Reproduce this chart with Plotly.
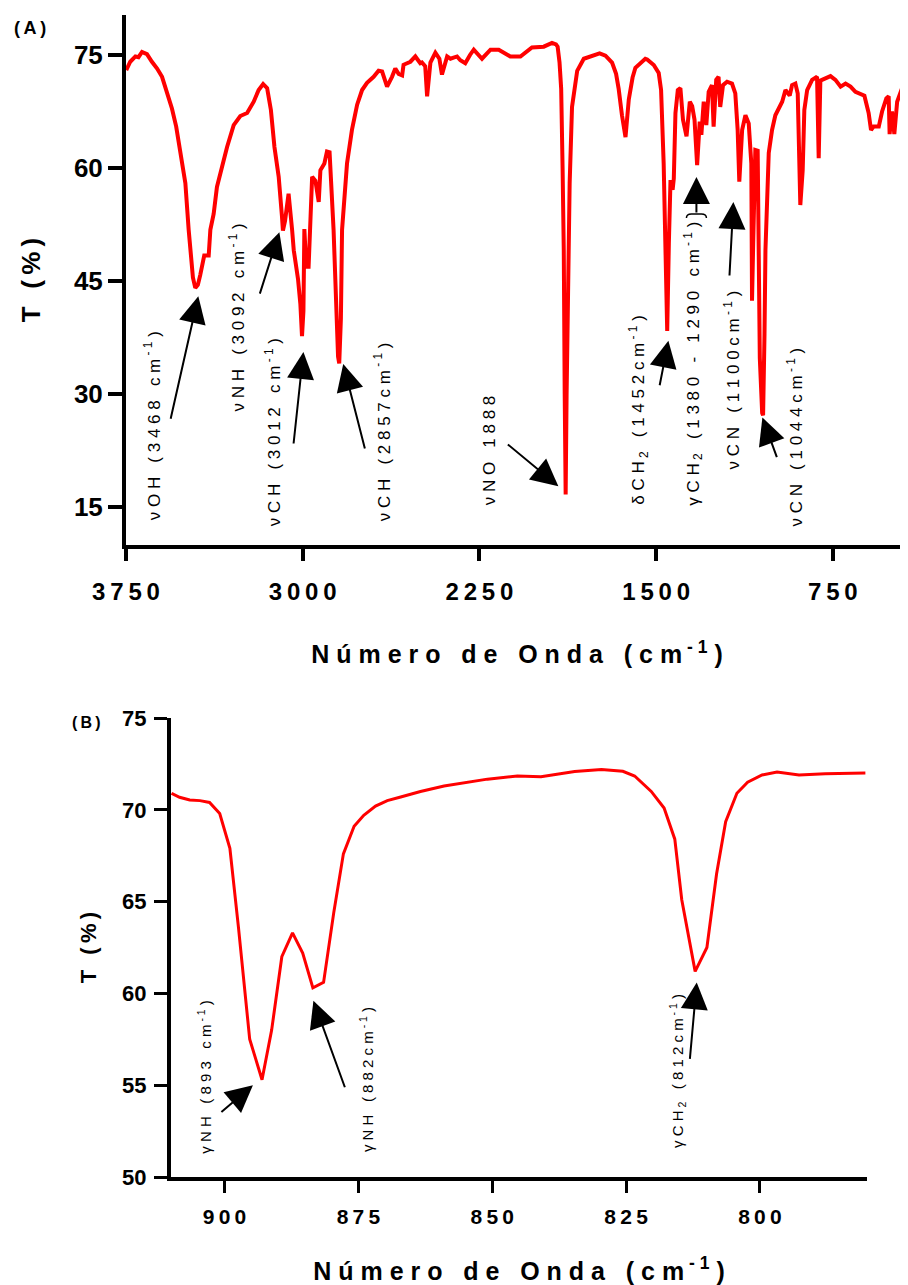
import re
import plotly.graph_objects as go

# ---------------- data ----------------
# Panel A: full FTIR spectrum
wn_a = [3749, 3732, 3710, 3697, 3682, 3661, 3640, 3618, 3597, 3576, 3555, 3537, 3517, 3498,
        3484, 3477, 3466, 3456, 3445, 3435, 3418, 3399, 3392, 3378, 3364, 3342, 3321, 3293,
        3265, 3236, 3208, 3187, 3168, 3151, 3135, 3120, 3102, 3088, 3084, 3075, 3060, 3045,
        3038, 3020, 3010, 3003, 2997, 2993, 2985, 2975, 2960, 2946, 2932, 2925, 2908, 2897,
        2886, 2869, 2858, 2850, 2845, 2838, 2833, 2812, 2791, 2769, 2748, 2727, 2699, 2678,
        2663, 2642, 2621, 2607, 2593, 2578, 2572, 2543, 2522, 2501, 2494, 2480, 2472, 2458,
        2437, 2420, 2409, 2387, 2373, 2345, 2331, 2310, 2290, 2274, 2239, 2203, 2168, 2140,
        2119, 2076, 2050, 2027, 1977, 1942, 1925, 1918, 1910, 1903, 1897, 1892, 1888, 1884,
        1880, 1875, 1867, 1857, 1835, 1807, 1765, 1740, 1715, 1687, 1670, 1659, 1645, 1630,
        1616, 1600, 1588, 1567, 1546, 1538, 1510, 1489, 1479, 1468, 1460, 1453, 1446, 1439,
        1430, 1425, 1418, 1408, 1397, 1386, 1371, 1357, 1347, 1337, 1326, 1315, 1308, 1298,
        1287, 1277, 1263, 1256, 1245, 1235, 1228, 1216, 1199, 1178, 1164, 1154, 1147, 1135,
        1121, 1107, 1096, 1093, 1088, 1079, 1069, 1060, 1050, 1046, 1040, 1036, 1022, 1008,
        994, 980, 965, 951, 933, 923, 909, 899, 893, 888, 878, 871, 859, 838, 817, 810, 803,
        781, 760, 739, 717, 696, 675, 654, 633, 616, 598, 588, 577, 555, 541, 523, 513, 509,
        499, 489, 477, 463, 449, 442, 431]
t_a = [73.0, 74.1, 74.8, 74.7, 75.4, 75.1, 74.1, 73.2, 72.1, 69.9, 67.9, 65.5, 62.0, 58.0,
       51.8, 49.1, 45.5, 44.1, 44.5, 45.8, 48.4, 48.4, 51.8, 53.9, 57.5, 60.2, 62.8, 65.7,
       66.9, 67.3, 68.8, 70.35, 71.15, 70.6, 67.7, 62.8, 58.85, 53.55, 51.7, 53.0, 56.6, 51.8,
       49.1, 45.3, 42.0, 37.7, 41.0, 51.9, 46.9, 46.9, 58.85, 58.3, 55.5, 59.7, 60.6, 62.2,
       62.1, 51.8, 40.0, 35.0, 34.1, 40.0, 51.8, 60.6, 65.05, 68.4, 70.35, 71.3, 72.1, 72.9,
       72.8, 70.8, 72.1, 73.2, 72.5, 72.3, 73.7, 74.1, 74.8, 73.9, 74.0, 73.5, 69.5, 74.0,
       75.3, 74.5, 72.4, 74.8, 74.5, 74.8, 74.3, 73.9, 75.0, 75.7, 74.5, 75.7, 75.7, 75.2,
       74.8, 74.8, 75.4, 76.0, 76.1, 76.6, 76.4, 76.1, 74.0, 70.5, 60.0, 49.1, 30.0, 16.7,
       30.0, 44.3, 58.0, 68.1, 72.9, 74.5, 74.9, 75.2, 74.9, 74.0, 72.5, 70.5, 67.0, 64.1,
       69.1, 72.0, 73.3, 73.9, 74.5, 74.4, 73.67, 72.6, 70.35, 60.6, 50.0, 38.4, 50.0, 58.4,
       57.1, 58.6, 67.3, 70.35, 70.6, 66.4, 64.2, 68.8, 68.2, 66.4, 60.4, 66.15, 64.4, 68.8,
       65.7, 70.1, 71.0, 65.5, 71.7, 72.1, 68.1, 71.0, 71.45, 71.2, 69.9, 65.05, 58.2, 65.05,
       67.0, 65.9, 60.6, 42.4, 50.0, 62.4, 62.3, 34.8, 27.5, 27.2, 38.0, 49.1, 62.0, 65.05,
       67.0, 67.9, 68.8, 70.35, 69.6, 71.0, 71.2, 69.9, 62.8, 55.1, 59.7, 67.7, 70.35, 71.7,
       72.1, 61.3, 71.6, 71.9, 72.2, 71.7, 70.8, 71.2, 70.8, 70.1, 69.9, 69.6, 67.3, 65.05,
       65.5, 65.5, 67.5, 69.25, 69.5, 64.5, 67.5, 64.5, 68.8, 70.1, 71.2, 73.4, 74.6]

# Panel B: 910-780 cm-1 detail
wn_b = [909.9, 908.4, 906.5, 904.6, 902.8, 900.9, 899.0, 897.4, 895.3, 893.0, 891.2, 889.3,
        887.3, 885.4, 883.5, 881.5, 879.6, 877.8, 875.8, 874.0, 871.8, 869.6, 867.1, 863.4,
        859.0, 855.9, 850.9, 845.3, 840.9, 834.6, 829.6, 825.6, 823.4, 820.3, 817.9, 815.9,
        814.6, 812.1, 809.9, 808.1, 806.4, 804.3, 802.3, 799.6, 796.8, 792.7, 787.8, 780.3]
t_b = [70.9, 70.68, 70.53, 70.5, 70.4, 69.8, 67.9, 63.6, 57.5, 55.3, 58.0, 62.0,
       63.3, 62.2, 60.3, 60.6, 64.4, 67.6, 69.1, 69.7, 70.2, 70.5, 70.7, 71.0,
       71.3, 71.45, 71.67, 71.84, 71.8, 72.08, 72.2, 72.1, 71.84, 71.0, 70.1, 68.4,
       65.1, 61.2, 62.5, 66.5, 69.35, 70.9, 71.5, 71.9, 72.06, 71.9, 71.96, 72.0]

ticks_a_x = [3750, 3000, 2250, 1500, 750]
ticks_a_y = [15, 30, 45, 60, 75]
ticks_b_x = [900, 875, 850, 825, 800]
ticks_b_y = [50, 55, 60, 65, 70, 75]

labels_a = ["νOH (3468 cm<sup>-1</sup>)", "νNH (3092 cm<sup>-1</sup>)",
            "νCH (3012 cm<sup>-1</sup>)", "νCH (2857cm<sup>-1</sup>)", "νNO 1888",
            "δCH<sub>2</sub> (1452cm<sup>-1</sup>)",
            "γCH<sub>2</sub> (1380 - 1290 cm<sup>-1</sup>)",
            "νCN (1100cm<sup>-1</sup>)", "νCN (1044cm<sup>-1</sup>)"]
labels_b = ["γNH (893 cm<sup>-1</sup>)", "γNH (882cm<sup>-1</sup>)",
            "γCH<sub>2</sub> (812cm<sup>-1</sup>)"]

# ---------------- helpers ----------------
def spread(s, gap="\u2009"):
    """Insert letter spacing between visible characters (tags untouched)."""
    out, first = [], True
    for tok in re.split(r"(<[^>]+>)", s):
        if tok.startswith("<"):
            out.append(tok)
            continue
        for ch in tok:
            if not first:
                out.append(gap)
            out.append(ch.replace(" ", "\u00a0"))
            first = False
    return "".join(out)

# the page body keeps its default 8px margin, so the figure is 900x1277 placed at (8, 8)
OFF = 8
W, H = 908 - OFF, 1285 - OFF
def fx(px):
    return (px - OFF) / W
def fy(py):
    return 1 - (py - OFF) / H

FONT = "Liberation Sans, Arial, sans-serif"
RED = "#ff0000"

fig = go.Figure()
fig.add_trace(go.Scatter(x=wn_a, y=t_a, mode="lines", line=dict(color=RED, width=4),
                         xaxis="x", yaxis="y", showlegend=False, hoverinfo="skip"))
fig.add_trace(go.Scatter(x=wn_b, y=t_b, mode="lines", line=dict(color=RED, width=3),
                         xaxis="x2", yaxis="y2", showlegend=False, hoverinfo="skip"))

axis_common = dict(showgrid=False, zeroline=False, showline=True, linecolor="black",
                   ticks="outside", tickcolor="black", automargin=False)

xtitle = spread("Número de Onda (cm<sup>-1</sup>)", "\u00a0")

fig.update_layout(
    width=W, height=H, margin=dict(l=0, r=0, t=0, b=0),
    paper_bgcolor="white", plot_bgcolor="white",
    xaxis=dict(domain=[fx(126), 1.0], range=[3750, 431], anchor="y",
               tickvals=ticks_a_x, ticktext=[spread(str(v), "\u2009") for v in ticks_a_x],
               ticklen=12, tickwidth=4, linewidth=4, ticklabelstandoff=10,
               tickfont=dict(family=FONT, size=24, color="black", weight="bold"),
               title=dict(text=xtitle, standoff=43,
                          font=dict(family=FONT, size=25, color="black", weight="bold")),
               **axis_common),
    yaxis=dict(domain=[fy(545), fy(15)], range=[10, 80.3], anchor="x",
               tickvals=ticks_a_y, ticklen=14, tickwidth=4, linewidth=4, ticklabelstandoff=0,
               tickfont=dict(family=FONT, size=26, color="black", weight="bold"),
               title=dict(text=spread("T (%)", "\u2009"), standoff=27,
                          font=dict(family=FONT, size=26, color="black", weight="bold")),
               **axis_common),
    xaxis2=dict(domain=[fx(171), fx(867)], range=[910, 780], anchor="y2",
                tickvals=ticks_b_x, ticktext=[spread(str(v), "\u2009") for v in ticks_b_x],
                ticklen=12, tickwidth=3, linewidth=4, ticklabelstandoff=6,
                tickfont=dict(family=FONT, size=21, color="black", weight="bold"),
                title=dict(text=xtitle, standoff=45,
                           font=dict(family=FONT, size=25, color="black", weight="bold")),
                **axis_common),
    yaxis2=dict(domain=[fy(1177), fy(718)], range=[50, 75], anchor="x2",
                tickvals=ticks_b_y, ticklen=13, tickwidth=3, linewidth=4, ticklabelstandoff=3,
                tickfont=dict(family=FONT, size=22, color="black", weight="bold"),
                title=dict(text=spread("T (%)", "\u2009"), standoff=20,
                           font=dict(family=FONT, size=22, color="black", weight="bold")),
                **axis_common),
)

# ---------------- annotations ----------------
# (arrow-head x, arrow-head y, tail dx px, tail dy px, label x, label y)
ann_a_pos = [
    (3443, 43.0, -28, 124, 3638, 25.8),
    (3099, 51.5, -20, 63, 3278, 40.2),
    (2997, 35.6, -10, 93, 3128, 24.9),
    (2828, 34.0, 22, 86, 2662, 25.0),
    (1915, 17.8, -52, -43, 2208, 22.6),
    (1448, 37.1, -9, 46, 1575, 28.0),
    (1329, 58.8, 0, 37, 1345, 34.0),
    (1172, 55.5, -4, 75, 1180, 31.9),
    (1049, 26.9, 15, 41, 909, 24.3),
]
ann_b_pos = [
    (894.7, 55.0, -33, 28, 903.7, 55.45),
    (883.4, 59.6, 32, 88, 873.5, 55.3),
    (811.8, 60.6, -7, 78, 815.4, 55.8),
]

annotations = []
def add_group(labels, positions, xr, yr, size):
    for lab, (hx, hy, dx, dy, lx, ly) in zip(labels, positions):
        annotations.append(dict(x=hx, y=hy, xref=xr, yref=yr, ax=dx, ay=dy,
                                axref="pixel", ayref="pixel", text="", showarrow=True,
                                arrowhead=2, arrowsize=2.7, arrowwidth=2, arrowcolor="black",
                                standoff=0))
        annotations.append(dict(x=lx, y=ly, xref=xr, yref=yr, text=spread(lab, "\u00a0"),
                                showarrow=False, textangle=-90, xanchor="center",
                                yanchor="middle",
                                font=dict(family=FONT, size=size, color="black")))

add_group(labels_a, ann_a_pos, "x", "y", 17)
add_group(labels_b, ann_b_pos, "x2", "y2", 15)

annotations.append(dict(x=fx(30), y=fy(28), xref="paper", yref="paper", showarrow=False,
                        text=spread("(A)", "\u2009"), xanchor="center", yanchor="middle",
                        font=dict(family=FONT, size=18, color="black", weight="bold")))
annotations.append(dict(x=fx(86), y=fy(722), xref="paper", yref="paper", showarrow=False,
                        text=spread("(B)", "\u2009"), xanchor="center", yanchor="middle",
                        font=dict(family=FONT, size=16, color="black", weight="bold")))
fig.update_layout(annotations=annotations)

# small brace at the tail of the gamma-CH2 arrow (panel A)
hx, hy, dx, dy = ann_a_pos[6][0], ann_a_pos[6][1], ann_a_pos[6][2], ann_a_pos[6][3]
px_x = (3750 - 431) / (908 - 126)        # cm-1 per pixel
px_y = (80.3 - 10) / 530                 # %T per pixel
ty = hy - dy * px_y
bw = 10 * px_x
fig.add_shape(type="path", xref="x", yref="y",
              path=(f"M{hx + bw},{ty - 4 * px_y} Q{hx + bw},{ty} {hx + bw / 2},{ty} "
                    f"L{hx},{ty} L{hx - bw / 2},{ty} Q{hx - bw},{ty} {hx - bw},{ty - 4 * px_y}"),
              line=dict(color="black", width=1.5))

fig.write_html("out.html")
